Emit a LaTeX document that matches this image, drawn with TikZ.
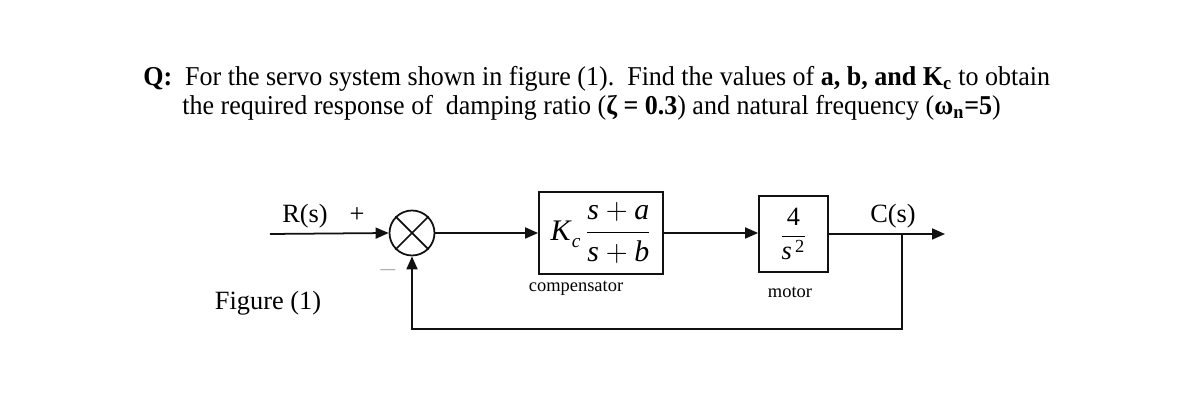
\documentclass[tikz,border=0pt]{standalone}
\usepackage{fontspec}
\setmainfont{Liberation Serif}
\usepackage{amsmath}
\usetikzlibrary{
  arrows.meta,
  positioning,
  calc
}
\definecolor{bdInk}{HTML}{111111}
\definecolor{bdMute}{HTML}{A0A0A0}
\tikzset{
  blk/.style={draw=bdInk, line width=1pt, inner sep=0pt, font=\fontsize{15}{17}\selectfont},
  sumnode/.style={draw=bdInk, circle, line width=1pt, minimum size=0.9cm, inner sep=0pt},
  sig/.style={-{Triangle[length=2.6mm, width=2.2mm]}, line width=1pt, bdInk},
  wire/.style={line width=1pt, bdInk},
  lbl/.style={font=\fontsize{15}{17}\selectfont, inner sep=0pt},
  tag/.style={font=\fontsize{10.5}{12}\selectfont, inner sep=0pt},
  qline/.style={font=\fontsize{15.5}{18}\selectfont\addfontfeature{FakeStretch=0.955}, inner sep=0pt, anchor=base west}
}
\newcommand{\vi}[1]{\textit{#1}}

\begin{document}
\begin{tikzpicture}[x=0.02cm, y=-0.02cm]
  \useasboundingbox (0,0) rectangle (1200,411);

  % question text
  \node[qline] (q1) at (143,86) {\textbf{Q:}\ \ For the servo system shown in figure (1).\ \ Find the values of \textbf{a, b, and K\textsubscript{c}} to obtain};
  \node[qline] (q2) at (182,115) {the required response of\ \ damping ratio (\textbf{ζ = 0.3}) and natural frequency (\textbf{ω\textsubscript{n}=5})};

  % blocks
  \node[sumnode] (sum) at (412,233) {};
  \draw[wire] (sum.north west) -- (sum.south east) (sum.north east) -- (sum.south west);
  \node[blk, minimum width=2.48cm, minimum height=1.64cm] (comp) at (601,233)
    {\fontsize{17}{19}\selectfont\vi{K}\raisebox{-0.5ex}{\fontsize{11}{12}\selectfont\vi{c}}\,$\dfrac{\text{\vi{s}}+\text{\vi{a}}}{\text{\vi{s}}+\text{\vi{b}}}$};
  \node[blk, minimum width=1.38cm, minimum height=1.52cm] (motor) at (793.5,234)
    {$\dfrac{\text{4}}{\text{\vi{s}}^{\,\text{2}}}$};

  % labels
  \node[lbl, anchor=base] (rs) at (305,223) {R(s)};
  \node[lbl, anchor=base] (plus) at (357,223) {+};
  \node[lbl, anchor=base, text=bdMute] (minus) at (388,277) {$-$};
  \node[lbl, anchor=base] (cs) at (893,223) {C(s)};
  \node[lbl, anchor=base] (fig) at (268,310) {Figure (1)};
  \node[tag, anchor=base] (ctag) at (576,292) {compensator};
  \node[tag, anchor=base] (mtag) at (790,298) {motor};

  % signal path
  \coordinate (in) at (270,234);
  \coordinate (out) at (945,234);
  \coordinate (br) at (902,234);
  \coordinate (fb1) at (902,329);
  \coordinate (fb2) at (412,329);
  \draw[sig] (in) -- (sum.west);
  \draw[sig] (sum.east) -- (comp.west);
  \draw[sig] (comp.east) -- (comp.east -| motor.west);
  \draw[sig] (motor.east |- br) -- (out);
  \draw[sig] (br) -- (fb1) -- (fb2) -- (sum.south);
\end{tikzpicture}
\end{document}
